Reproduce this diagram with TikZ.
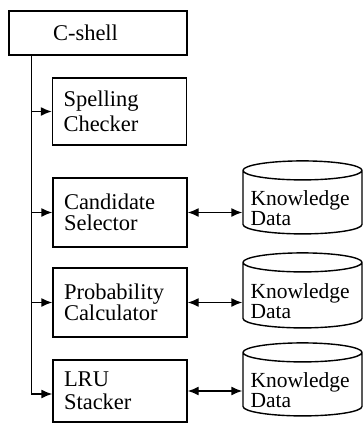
\documentclass[tikz,border=0pt]{standalone}
\usepackage{fontspec}
\setmainfont{Liberation Serif}
\usetikzlibrary{shapes.geometric}
\usetikzlibrary{arrows.meta}

\tikzset{
  module/.style={draw, line width=1.4pt, minimum width=134pt, text width=112pt,
    inner xsep=11pt, align=left},
  kdata/.style={draw, line width=1.4pt, cylinder, shape border rotate=90,
    aspect=0.19, minimum width=119pt, minimum height=73pt, inner sep=0pt},
  kdtext/.style={text width=104pt, align=left, inner sep=0pt,
    font=\fontsize{21.5}{20}\selectfont},
  link/.style={line width=1.4pt, -{Latex[length=11pt,width=9pt]}},
  dlink/.style={line width=1.4pt, {Latex[length=11pt,width=9pt]}-{Latex[length=11pt,width=9pt]}}
}

\begin{document}
\begin{tikzpicture}[x=1pt, y=1pt, font=\fontsize{22.5}{21}\selectfont]
\useasboundingbox (0,0) rectangle (363,-423);

\node[draw, line width=1.4pt, minimum width=178pt, minimum height=44pt, text width=90pt,
  inner xsep=44pt, align=left] (cshell) at (98,-33) {C-shell};

\node[module, minimum height=67pt] (spell) at (119.5,-111.5) {Spelling\\[4pt]Checker};
\node[module, minimum height=69pt] (cand) at (120,-212.5) {Candidate\\Selector};
\node[module, minimum height=69pt] (prob) at (120,-302.5) {Probability\\Calculator};
\node[module, minimum height=62pt] (lru) at (120,-391) {LRU\\[2pt]Stacker};

% cylinders first, their labels on top
\node[kdata] (kd1) at (302.5,-202.5) {\rule{100pt}{0pt}};
\node[kdata, minimum height=75pt] (kd2) at (302.5,-295.5) {\rule{100pt}{0pt}};
\node[kdata] (kd3) at (302.5,-384.5) {\rule{100pt}{0pt}};
\node[kdtext] (kd1t) at ([yshift=-6pt]kd1.center) {Knowledge\\Data};
\node[kdtext] (kd2t) at ([yshift=-6pt]kd2.center) {Knowledge\\Data};
\node[kdtext] (kd3t) at ([yshift=-6pt]kd3.center) {Knowledge\\Data};

\coordinate (trunk) at ([xshift=23pt]cshell.south west);

\draw[link] (trunk) |- ([yshift=-3pt]lru.west);
\draw[link] (spell.west -| trunk) -- (spell.west);
\draw[link] (cand.west -| trunk) -- (cand.west);
\draw[link] (prob.west -| trunk) -- (prob.west);

\draw[dlink] (cand.east) -- (cand.east -| kd1.west);
\draw[dlink] (prob.east) -- (prob.east -| kd2.west);
\draw[dlink] (lru.east) -- (lru.east -| kd3.west);

\end{tikzpicture}
\end{document}
